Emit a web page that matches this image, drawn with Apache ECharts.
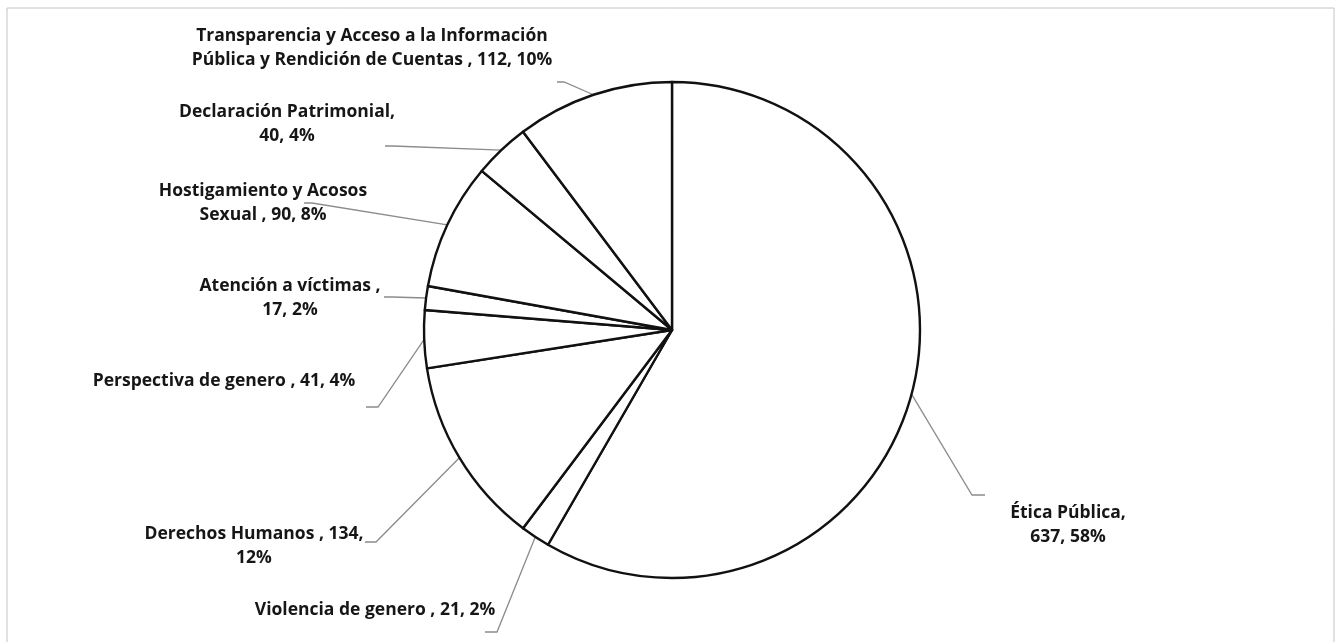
<!DOCTYPE html>
<html>
<head>
<meta charset="utf-8">
<script src="https://cdn.jsdelivr.net/npm/echarts@6/dist/echarts.min.js"></script>
<style>
html,body{margin:0;padding:0;background:#fff;}
#chart{width:1341px;height:642px;}
</style>
</head>
<body>
<div id="chart"></div>
<script>
// ---- data ----
const categories = [
  'Ética Pública',
  'Violencia de genero',
  'Derechos Humanos',
  'Perspectiva de genero',
  'Atención a víctimas',
  'Hostigamiento y Acosos Sexual',
  'Declaración Patrimonial',
  'Transparencia y Acceso a la Información Pública y Rendición de Cuentas'
];
const values = [637, 21, 134, 41, 17, 90, 40, 112];
// label text templates ({v} = value, {p} = percent)
const labelTemplates = [
  'Ética Pública,\n{v}, {p}%',
  'Violencia de genero , {v}, {p}%',
  'Derechos Humanos , {v},\n{p}%',
  'Perspectiva de genero , {v}, {p}%',
  'Atención a víctimas ,\n{v}, {p}%',
  'Hostigamiento y Acosos\nSexual , {v}, {p}%',
  'Declaración Patrimonial,\n{v}, {p}%',
  'Transparencia y Acceso a la Información\nPública y Rendición de Cuentas , {v}, {p}%'
];

// ---- layout (label centres and leader-line bends) ----
const labelLayouts = [
  {x: 1068, y: 525, pts: [[972, 495], [985, 495]]},
  {x: 375,  y: 610, pts: [[497, 632], [485, 632]]},
  {x: 254,  y: 546, pts: [[376, 542], [365, 542]]},
  {x: 224,  y: 381, pts: [[378, 407], [366, 407]]},
  {x: 290,  y: 298, pts: [[392, 297], [384, 297]]},
  {x: 263,  y: 203, pts: [[312, 203], [304, 203]]},
  {x: 287,  y: 124, pts: [[393, 146], [385, 146]]},
  {x: 372,  y: 48,  pts: [[564, 82], [557, 82]]}
];

const chart = echarts.init(document.getElementById('chart'), null, {renderer: 'canvas'});
const option = {
  backgroundColor: '#ffffff',
  animation: false,
  graphic: [{
    type: 'rect',
    shape: {x: 7, y: 8, width: 1327, height: 640},
    style: {fill: 'none', stroke: '#c4c4c4', lineWidth: 1},
    silent: true
  }],
  series: [{
    type: 'pie',
    center: [672, 330],
    radius: 248,
    startAngle: 90,
    clockwise: true,
    percentPrecision: 0,
    avoidLabelOverlap: false,
    data: categories.map((c, i) => ({name: c, value: values[i]})),
    itemStyle: {color: '#ffffff', borderColor: '#111111', borderWidth: 2.4},
    emphasis: {disabled: true},
    label: {
      show: true,
      position: 'outside',
      formatter: p => labelTemplates[p.dataIndex].replace('{v}', p.value).replace('{p}', p.percent),
      fontFamily: '"Open Sans", Lato, sans-serif',
      fontWeight: 'bold',
      fontSize: 17.5,
      lineHeight: 24,
      color: '#161616',
      align: 'center'
    },
    labelLine: {
      show: true,
      lineStyle: {color: '#8c8c8c', width: 1.3}
    },
    labelLayout: function (params) {
      const L = labelLayouts[params.dataIndex];
      const start = params.labelLinePoints ? params.labelLinePoints[0] : [L.pts[0][0], L.pts[0][1]];
      return {
        x: L.x,
        y: L.y,
        align: 'center',
        verticalAlign: 'middle',
        labelLinePoints: [start, L.pts[0], L.pts[1]]
      };
    }
  }]
};
chart.setOption(option);
</script>
</body>
</html>
